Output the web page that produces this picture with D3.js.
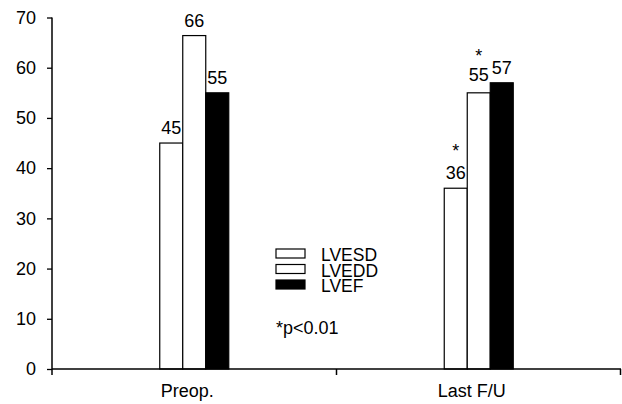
<!DOCTYPE html>
<html>
<head>
<meta charset="utf-8">
<script src="https://cdn.jsdelivr.net/npm/d3@7"></script>
<style>
  body { margin: 0; background: #fff; }
  svg text { font-family: "Liberation Sans", Arial, sans-serif; fill: #000; }
</style>
</head>
<body>
<svg width="622" height="404"></svg>
<script>
// data
var categories = ["Preop.", "Last F/U"];
var series = ["LVESD", "LVEDD", "LVEF"];
var lvesd = [45, 36];
var lvedd = [66.4, 55];
var lvef = [55, 57];
// which bars carry the * (p<0.01)
var starLvesd = [false, true];
var starLvedd = [false, true];
var starLvef = [false, false];
var yTicks = [0, 10, 20, 30, 40, 50, 60, 70];

var values = { LVESD: lvesd, LVEDD: lvedd, LVEF: lvef };
var stars = { LVESD: starLvesd, LVEDD: starLvedd, LVEF: starLvef };
var fills = { LVESD: "#fff", LVEDD: "#fff", LVEF: "#000" };

var svg = d3.select("svg");

var x0 = d3.scaleBand().domain(categories).range([52, 621]);
var x1 = d3.scaleBand().domain(series).range([-34.5, 34.5]);
var y = d3.scaleLinear().domain([0, 70]).range([369, 17.5]);

// flatten into one row per bar
var bars = [];
categories.forEach(function(c, i) {
  series.forEach(function(s) {
    bars.push({ cat: c, ser: s, value: values[s][i], star: stars[s][i] });
  });
});

function cx(d) { return x0(d.cat) + x0.bandwidth() / 2; }

svg.append("g").selectAll("rect")
  .data(bars)
  .enter().append("rect")
  .attr("x", d => cx(d) + x1(d.ser))
  .attr("y", d => y(d.value))
  .attr("width", x1.bandwidth())
  .attr("height", d => y(0) - y(d.value))
  .attr("fill", d => fills[d.ser])
  .attr("stroke", "#000")
  .attr("stroke-width", 1.2);

// value labels
var fmt = d3.format(".0f");
svg.append("g").selectAll("text")
  .data(bars)
  .enter().append("text")
  .attr("x", d => cx(d) + x1(d.ser) + x1.bandwidth() / 2)
  .attr("y", d => y(d.value) - (d.cat == "Last F/U" && d.ser == "LVEDD" ? 12 : 9))
  .attr("text-anchor", "middle")
  .style("font-size", "18px")
  .text(d => fmt(d.value));

// asterisks
svg.append("g").selectAll("text")
  .data(bars.filter(d => d.star))
  .enter().append("text")
  .attr("x", d => cx(d) + x1(d.ser) + x1.bandwidth() / 2)
  .attr("y", d => y(d.value) - 31)
  .attr("text-anchor", "middle")
  .style("font-size", "18px")
  .text("*");

// y axis
var yAxis = svg.append("g")
  .attr("transform", "translate(52,0)")
  .call(d3.axisLeft(y).tickValues(yTicks).tickSize(5).tickSizeOuter(0).tickPadding(11));
yAxis.select(".domain").attr("stroke", "#000").attr("stroke-width", 1.5)
  .attr("d", "M0," + y(70) + "V" + (y(0) + 6));
yAxis.selectAll(".tick line").attr("stroke", "#000").attr("stroke-width", 1.3);
yAxis.selectAll("text").style("font-size", "18px").style("font-family", "Liberation Sans, Arial, sans-serif");

// x axis: baseline with ticks at category boundaries
svg.append("line")
  .attr("x1", 52).attr("x2", 621)
  .attr("y1", y(0)).attr("y2", y(0))
  .attr("stroke", "#000").attr("stroke-width", 1.5);

var bounds = categories.map(c => x0(c) + x0.bandwidth());
svg.append("g").selectAll("line")
  .data(bounds)
  .enter().append("line")
  .attr("x1", d => Math.min(d, 620.5)).attr("x2", d => Math.min(d, 620.5))
  .attr("y1", y(0)).attr("y2", y(0) + 6)
  .attr("stroke", "#000").attr("stroke-width", 1.5);

svg.append("g").selectAll("text")
  .data(categories)
  .enter().append("text")
  .attr("x", d => x0(d) + x0.bandwidth() / 2 - 7)
  .attr("y", 397)
  .attr("text-anchor", "middle")
  .style("font-size", "18px")
  .text(d => d);

// legend
var legend = svg.append("g").attr("transform", "translate(276,249)");
var item = legend.selectAll("g")
  .data(series)
  .enter().append("g")
  .attr("transform", (d, i) => "translate(0," + (i * 15.5) + ")");
item.append("rect")
  .attr("width", 29).attr("height", 9)
  .attr("fill", d => fills[d])
  .attr("stroke", "#000").attr("stroke-width", 1.2);
item.append("text")
  .attr("x", 45).attr("y", 12)
  .style("font-size", "17.5px")
  .text(d => d);

svg.append("text")
  .attr("x", 276).attr("y", 334)
  .style("font-size", "18px")
  .text("*p<0.01");
</script>
</body>
</html>
